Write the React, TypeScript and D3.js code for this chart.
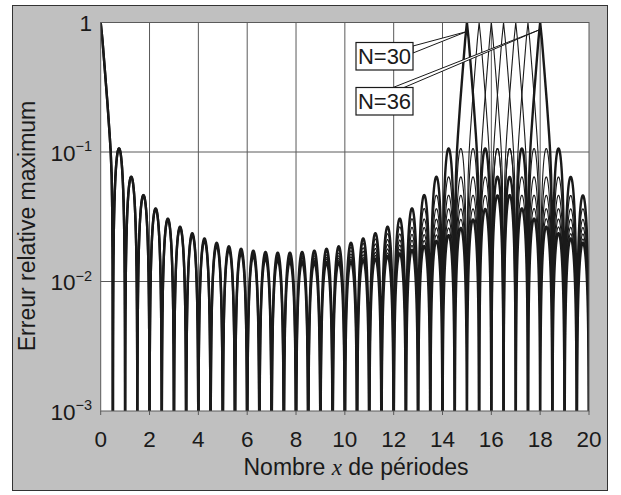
import React from "react";
import * as d3 from "d3";

const WIDTH = 621;
const HEIGHT = 495;

const X_TICKS = [0, 2, 4, 6, 8, 10, 12, 14, 16, 18, 20];
const Y_TICKS = [1e-3, 1e-2, 1e-1, 1];
const Y_GRID = [1e-2, 1e-1];

const SERIES_N = [30, 31, 32, 33, 34, 35, 36];
const LABELLED_N = [30, 36];

// Side-lobe peak of the relative error; lobe k is centred on x = 0.75 + 0.5·k (k = 0…38).
// null where the main lobe (around x = N/2) sits.
const PEAKS_N30 = [
  0.1065, 0.0644, 0.0465, 0.0367, 0.0306, 0.0265, 0.0236, 0.0215, 0.0199, 0.0187,
  0.0179, 0.0173, 0.0169, 0.0167, 0.0167, 0.0169, 0.0173, 0.0179, 0.0187, 0.0199,
  0.0215, 0.0236, 0.0265, 0.0306, 0.0367, 0.0465, 0.0644, 0.1065, null, null,
  0.1065, 0.0644, 0.0465, 0.0367, 0.0306, 0.0265, 0.0236, 0.0215, 0.0199,
];
const PEAKS_N31 = [
  0.1065, 0.0643, 0.0464, 0.0366, 0.0305, 0.0264, 0.0234, 0.0213, 0.0197, 0.0184,
  0.0176, 0.0169, 0.0165, 0.0162, 0.0161, 0.0162, 0.0165, 0.0169, 0.0176, 0.0184,
  0.0197, 0.0213, 0.0234, 0.0264, 0.0305, 0.0366, 0.0464, 0.0643, 0.1065, null,
  null, 0.1065, 0.0643, 0.0464, 0.0366, 0.0305, 0.0264, 0.0234, 0.0213,
];
const PEAKS_N32 = [
  0.1065, 0.0643, 0.0464, 0.0365, 0.0304, 0.0262, 0.0233, 0.0211, 0.0195, 0.0182,
  0.0173, 0.0166, 0.0161, 0.0158, 0.0156, 0.0156, 0.0158, 0.0161, 0.0166, 0.0173,
  0.0182, 0.0195, 0.0211, 0.0233, 0.0262, 0.0304, 0.0365, 0.0464, 0.0643, 0.1065,
  null, null, 0.1065, 0.0643, 0.0464, 0.0365, 0.0304, 0.0262, 0.0233,
];
const PEAKS_N33 = [
  0.1065, 0.0643, 0.0463, 0.0365, 0.0303, 0.0261, 0.0231, 0.0209, 0.0193, 0.018,
  0.0171, 0.0163, 0.0158, 0.0154, 0.0152, 0.0152, 0.0152, 0.0154, 0.0158, 0.0163,
  0.0171, 0.018, 0.0193, 0.0209, 0.0231, 0.0261, 0.0303, 0.0365, 0.0463, 0.0643,
  0.1065, null, null, 0.1065, 0.0643, 0.0463, 0.0365, 0.0303, 0.0261,
];
const PEAKS_N34 = [
  0.1064, 0.0642, 0.0463, 0.0364, 0.0302, 0.026, 0.023, 0.0208, 0.0191, 0.0178,
  0.0168, 0.0161, 0.0155, 0.0151, 0.0149, 0.0147, 0.0147, 0.0149, 0.0151, 0.0155,
  0.0161, 0.0168, 0.0178, 0.0191, 0.0208, 0.023, 0.026, 0.0302, 0.0364, 0.0463,
  0.0642, 0.1064, null, null, 0.1064, 0.0642, 0.0463, 0.0364, 0.0302,
];
const PEAKS_N35 = [
  0.1064, 0.0642, 0.0462, 0.0364, 0.0302, 0.0259, 0.0229, 0.0207, 0.019, 0.0177,
  0.0166, 0.0159, 0.0153, 0.0148, 0.0145, 0.0143, 0.0143, 0.0143, 0.0145, 0.0148,
  0.0153, 0.0159, 0.0166, 0.0177, 0.019, 0.0207, 0.0229, 0.0259, 0.0302, 0.0364,
  0.0462, 0.0642, 0.1064, null, null, 0.1064, 0.0642, 0.0462, 0.0364,
];
const PEAKS_N36 = [
  0.1064, 0.0642, 0.0462, 0.0363, 0.0301, 0.0259, 0.0228, 0.0206, 0.0188, 0.0175,
  0.0165, 0.0157, 0.015, 0.0146, 0.0142, 0.014, 0.0139, 0.0139, 0.014, 0.0142,
  0.0146, 0.015, 0.0157, 0.0165, 0.0175, 0.0188, 0.0206, 0.0228, 0.0259, 0.0301,
  0.0363, 0.0462, 0.0642, 0.1064, null, null, 0.1064, 0.0642, 0.0462,
];
const PEAKS = [PEAKS_N30, PEAKS_N31, PEAKS_N32, PEAKS_N33, PEAKS_N34, PEAKS_N35, PEAKS_N36];

// Main lobe (x = 0 and x = N/2): error against distance from the lobe centre.
const MAIN_LOBE_OFFSET = [0, 0.07, 0.17, 0.275, 0.37, 0.41, 0.45, 0.475, 0.49, 0.5];
const MAIN_LOBE_VALUE = [1, 0.74, 0.43, 0.24, 0.133, 0.1, 0.065, 0.033, 0.013, 0.0001];

const SANS = "'Liberation Sans', Arial, Helvetica, sans-serif";
const SERIF = "'Liberation Serif', 'Times New Roman', serif";
const INK = "#1a1a1a";
const GRID = "#5a5a5a";

export default function App() {
  const plot = { left: 100.7, right: 589, top: 22.5, bottom: 411 };
  const x = d3.scaleLinear().domain([0, 20]).range([plot.left, plot.right]);
  const y = d3.scaleLog().domain([1e-3, 1]).range([plot.bottom, plot.top]);

  const mainLobe = d3
    .scaleLinear()
    .domain(MAIN_LOBE_OFFSET)
    .range(MAIN_LOBE_VALUE.map((v) => Math.log10(v)))
    .clamp(true);

  const errorAt = (n: number, peaks: (number | null)[], t: number) => {
    if (t < 0.5) return Math.pow(10, mainLobe(t));
    const dn = Math.abs(t - n / 2);
    if (dn < 0.5) return Math.pow(10, mainLobe(dn));
    const k = Math.max(0, Math.min(peaks.length - 1, Math.floor((t - 0.5) / 0.5)));
    const a = peaks[k] ?? 0;
    return a * Math.abs(Math.sin(2 * Math.PI * t));
  };

  const xs = d3.range(0, 20.00001, 0.0025);
  const line = d3
    .line<[number, number]>()
    .x((d) => x(d[0]))
    .y((d) => y(Math.max(d[1], 2e-4)));

  const series = SERIES_N.map((n, i) => ({
    n,
    thick: LABELLED_N.includes(n),
    d: line(xs.map((t) => [t, errorAt(n, PEAKS[i], t)] as [number, number])) || "",
  }));
  // thin curves first, the two labelled ones on top
  series.sort((a, b) => Number(a.thick) - Number(b.thick));

  const expOf = (v: number) => Math.round(Math.log10(v));

  // callouts: wedge from the box to the top of each labelled spike
  const tip30: [number, number] = [x(15), y(1) + 9];
  const tip36: [number, number] = [x(18), y(1) + 7];

  return (
    <div style={{ position: "fixed", left: 0, top: 0 }}>
      <svg width={WIDTH} height={HEIGHT} viewBox={`0 0 ${WIDTH} ${HEIGHT}`}>
        <defs>
          <clipPath id="plot-clip">
            <rect x={plot.left} y={plot.top} width={plot.right - plot.left} height={plot.bottom - plot.top} />
          </clipPath>
        </defs>
        <rect x={0} y={0} width={WIDTH} height={HEIGHT} fill="#ffffff" />
        <rect x={12.5} y={5.5} width={595} height={485} fill="#c0c0c0" stroke="#333" strokeWidth={1} />
        <rect
          x={plot.left}
          y={plot.top}
          width={plot.right - plot.left}
          height={plot.bottom - plot.top}
          fill="#ffffff"
        />

        {/* grid */}
        {X_TICKS.filter((t) => t > 0 && t < 20).map((t) => (
          <line key={`gx${t}`} x1={x(t)} x2={x(t)} y1={plot.top} y2={plot.bottom} stroke={GRID} strokeWidth={1} />
        ))}
        {Y_GRID.map((v) => (
          <line key={`gy${v}`} x1={plot.left} x2={plot.right} y1={y(v)} y2={y(v)} stroke={GRID} strokeWidth={1} />
        ))}

        {/* curves */}
        <g clipPath="url(#plot-clip)">
          {series.map((s) => (
            <path
              key={s.n}
              d={s.d}
              fill="none"
              stroke={INK}
              strokeWidth={s.thick ? 2.4 : 1.1}
              strokeLinejoin="round"
            />
          ))}
        </g>

        {/* frame and ticks */}
        <rect
          x={plot.left}
          y={plot.top}
          width={plot.right - plot.left}
          height={plot.bottom - plot.top}
          fill="none"
          stroke={GRID}
          strokeWidth={1}
        />
        {X_TICKS.map((t) => (
          <line key={`tx${t}`} x1={x(t)} x2={x(t)} y1={plot.bottom} y2={plot.bottom + 4} stroke={GRID} strokeWidth={1} />
        ))}

        {/* x tick labels */}
        {X_TICKS.map((t) => (
          <text
            key={`lx${t}`}
            x={x(t)}
            y={447}
            textAnchor="middle"
            fontFamily={SANS}
            fontSize={22.5}
            fill={INK}
          >
            {t}
          </text>
        ))}

        {/* y tick labels */}
        {Y_TICKS.map((v) =>
          expOf(v) === 0 ? (
            <text key={`ly${v}`} x={92} y={y(v) + 8} textAnchor="end" fontFamily={SANS} fontSize={22.5} fill={INK}>
              1
            </text>
          ) : (
            <text key={`ly${v}`} x={92} y={y(v) + 8.5} textAnchor="end" fontFamily={SANS} fontSize={22.5} fill={INK}>
              10
              <tspan dy={-9.5} fontSize={14.5}>
                {`\u2212${-expOf(v)}`}
              </tspan>
            </text>
          )
        )}

        {/* axis titles */}
        <text x={356} y={475} textAnchor="middle" fontFamily={SANS} fontSize={23} fill={INK}>
          Nombre{" "}
          <tspan fontFamily={SERIF} fontStyle="italic">
            x
          </tspan>{" "}
          de périodes
        </text>
        <text
          transform={`translate(35, 226) rotate(-90)`}
          textAnchor="middle"
          fontFamily={SANS}
          fontSize={23}
          fill={INK}
        >
          Erreur relative maximum
        </text>

        {/* callouts */}
        <polygon
          points={`413,46 413,53 ${tip30[0]},${tip30[1]}`}
          fill="#ffffff"
          stroke={INK}
          strokeWidth={1}
          strokeLinejoin="round"
        />
        <polygon
          points={`393,87.5 404,87.5 ${tip36[0]},${tip36[1]}`}
          fill="#ffffff"
          stroke={INK}
          strokeWidth={1}
          strokeLinejoin="round"
        />
        <rect x={356} y={42.5} width={57} height={27.5} fill="#ffffff" stroke={INK} strokeWidth={1.2} />
        <rect x={356} y={87.5} width={57} height={27.5} fill="#ffffff" stroke={INK} strokeWidth={1.2} />
        <text x={384.5} y={64} textAnchor="middle" fontFamily={SANS} fontSize={22} fill={INK}>
          N=30
        </text>
        <text x={384.5} y={109} textAnchor="middle" fontFamily={SANS} fontSize={22} fill={INK}>
          N=36
        </text>
      </svg>
    </div>
  );
}
